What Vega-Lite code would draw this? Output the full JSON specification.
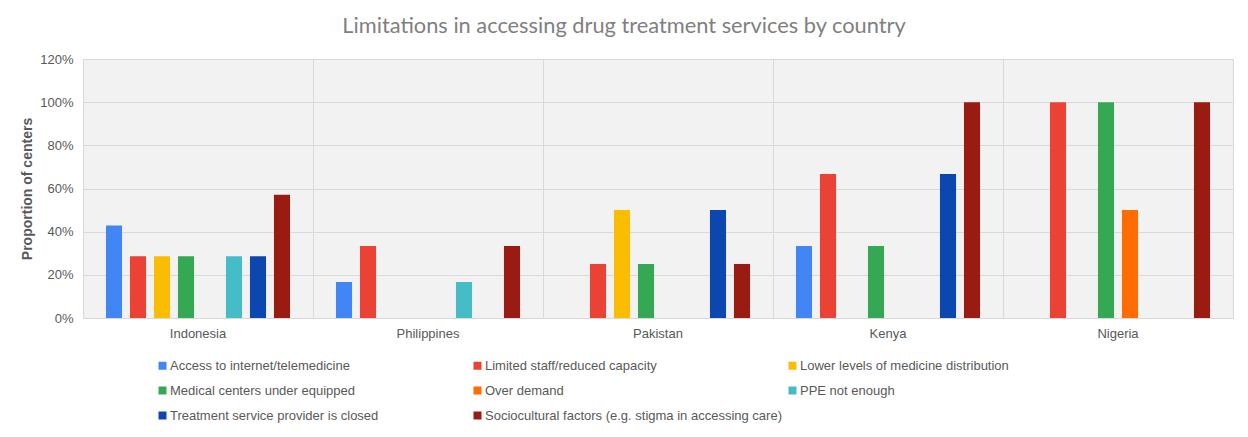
{
  "$schema": "https://vega.github.io/schema/vega-lite/v6.json",
  "width": 1150,
  "height": 259,
  "autosize": {"type": "none"},
  "padding": {"left": 83, "top": 59, "right": 15, "bottom": 119},
  "background": "white",
  "title": {
    "text": "Limitations in accessing drug treatment services by country",
    "font": "Lato",
    "fontSize": 21.8,
    "fontWeight": "normal",
    "color": "#7f7f7f",
    "anchor": "middle",
    "dx": -34,
    "offset": 15
  },
  "config": {
    "view": {"stroke": "#d9d9d9", "fill": "#f2f2f2"},
    "font": "Liberation Sans"
  },
  "data": {
    "values": [
      {"country": "Indonesia", "limitation": "Access to internet/telemedicine", "value": 0.4286},
      {"country": "Indonesia", "limitation": "Limited staff/reduced capacity", "value": 0.2857},
      {"country": "Indonesia", "limitation": "Lower levels of medicine distribution", "value": 0.2857},
      {"country": "Indonesia", "limitation": "Medical centers under equipped", "value": 0.2857},
      {"country": "Indonesia", "limitation": "Over demand", "value": 0},
      {"country": "Indonesia", "limitation": "PPE not enough", "value": 0.2857},
      {"country": "Indonesia", "limitation": "Treatment service provider is closed", "value": 0.2857},
      {"country": "Indonesia", "limitation": "Sociocultural factors (e.g. stigma in accessing care)", "value": 0.5714},
      {"country": "Philippines", "limitation": "Access to internet/telemedicine", "value": 0.1667},
      {"country": "Philippines", "limitation": "Limited staff/reduced capacity", "value": 0.3333},
      {"country": "Philippines", "limitation": "Lower levels of medicine distribution", "value": 0},
      {"country": "Philippines", "limitation": "Medical centers under equipped", "value": 0},
      {"country": "Philippines", "limitation": "Over demand", "value": 0},
      {"country": "Philippines", "limitation": "PPE not enough", "value": 0.1667},
      {"country": "Philippines", "limitation": "Treatment service provider is closed", "value": 0},
      {"country": "Philippines", "limitation": "Sociocultural factors (e.g. stigma in accessing care)", "value": 0.3333},
      {"country": "Pakistan", "limitation": "Access to internet/telemedicine", "value": 0},
      {"country": "Pakistan", "limitation": "Limited staff/reduced capacity", "value": 0.25},
      {"country": "Pakistan", "limitation": "Lower levels of medicine distribution", "value": 0.5},
      {"country": "Pakistan", "limitation": "Medical centers under equipped", "value": 0.25},
      {"country": "Pakistan", "limitation": "Over demand", "value": 0},
      {"country": "Pakistan", "limitation": "PPE not enough", "value": 0},
      {"country": "Pakistan", "limitation": "Treatment service provider is closed", "value": 0.5},
      {"country": "Pakistan", "limitation": "Sociocultural factors (e.g. stigma in accessing care)", "value": 0.25},
      {"country": "Kenya", "limitation": "Access to internet/telemedicine", "value": 0.3333},
      {"country": "Kenya", "limitation": "Limited staff/reduced capacity", "value": 0.6667},
      {"country": "Kenya", "limitation": "Lower levels of medicine distribution", "value": 0},
      {"country": "Kenya", "limitation": "Medical centers under equipped", "value": 0.3333},
      {"country": "Kenya", "limitation": "Over demand", "value": 0},
      {"country": "Kenya", "limitation": "PPE not enough", "value": 0},
      {"country": "Kenya", "limitation": "Treatment service provider is closed", "value": 0.6667},
      {"country": "Kenya", "limitation": "Sociocultural factors (e.g. stigma in accessing care)", "value": 1.0},
      {"country": "Nigeria", "limitation": "Access to internet/telemedicine", "value": 0},
      {"country": "Nigeria", "limitation": "Limited staff/reduced capacity", "value": 1.0},
      {"country": "Nigeria", "limitation": "Lower levels of medicine distribution", "value": 0},
      {"country": "Nigeria", "limitation": "Medical centers under equipped", "value": 1.0},
      {"country": "Nigeria", "limitation": "Over demand", "value": 0.5},
      {"country": "Nigeria", "limitation": "PPE not enough", "value": 0},
      {"country": "Nigeria", "limitation": "Treatment service provider is closed", "value": 0},
      {"country": "Nigeria", "limitation": "Sociocultural factors (e.g. stigma in accessing care)", "value": 1.0}
    ]
  },
  "layer": [
    {
      "mark": {"type": "rule", "color": "#d9d9d9", "strokeWidth": 1, "xOffset": 0.5},
      "encoding": {
        "x": {
          "field": "country",
          "type": "nominal",
          "bandPosition": 0,
          "sort": ["Indonesia", "Philippines", "Pakistan", "Kenya", "Nigeria"],
          "scale": {"paddingInner": 0, "paddingOuter": 0},
          "axis": {"title": null, "labelAngle": 0, "labelPadding": 9, "ticks": false, "domain": false, "grid": false, "labelFont": "Liberation Sans", "labelFontSize": 13, "labelColor": "#595959"}
        }
      }
    },
    {
      "mark": {"type": "bar"},
      "encoding": {
        "x": {
          "field": "country",
          "type": "nominal",
          "sort": ["Indonesia", "Philippines", "Pakistan", "Kenya", "Nigeria"],
          "scale": {"paddingInner": 0, "paddingOuter": 0},
          "axis": {"title": null, "labelAngle": 0, "labelPadding": 9, "ticks": false, "domain": false, "grid": false, "labelFont": "Liberation Sans", "labelFontSize": 13, "labelColor": "#595959"}
        },
        "xOffset": {
          "field": "limitation",
          "type": "nominal",
          "sort": ["Access to internet/telemedicine", "Limited staff/reduced capacity", "Lower levels of medicine distribution", "Medical centers under equipped", "Over demand", "PPE not enough", "Treatment service provider is closed", "Sociocultural factors (e.g. stigma in accessing care)"],
          "scale": {"paddingInner": 0.33, "paddingOuter": 0.957}
        },
        "y": {
          "field": "value",
          "type": "quantitative",
          "scale": {"domain": [0, 1.2], "nice": false},
          "axis": {
            "values": [0, 0.2, 0.4, 0.6, 0.8, 1.0, 1.2],
            "format": ".0%",
            "title": "Proportion of centers",
            "titleFont": "Liberation Sans",
            "titleFontSize": 14,
            "titleFontWeight": "bold",
            "titleColor": "#595959",
            "titlePadding": 5,
            "labelFont": "Liberation Sans",
            "labelFontSize": 13,
            "labelColor": "#595959",
            "labelPadding": 10,
            "ticks": false,
            "domain": false,
            "gridColor": "#d9d9d9"
          }
        },
        "color": {
          "field": "limitation",
          "type": "nominal",
          "scale": {
            "domain": ["Access to internet/telemedicine", "Limited staff/reduced capacity", "Lower levels of medicine distribution", "Medical centers under equipped", "Over demand", "PPE not enough", "Treatment service provider is closed", "Sociocultural factors (e.g. stigma in accessing care)"],
            "range": ["#4285F4", "#EA4335", "#FBBC04", "#34A853", "#FF6D01", "#46BDC6", "#0B47AE", "#9A1B11"]
          },
          "legend": {
            "title": null,
            "orient": "none",
            "direction": "horizontal",
            "legendX": 73,
            "legendY": 300,
            "columns": 3,
            "gridAlign": "all",
            "columnPadding": 4,
            "rowPadding": 11,
            "symbolType": "square",
            "symbolSize": 64,
            "symbolStrokeWidth": 0,
            "labelOffset": 1,
            "labelLimit": 400,
            "labelFont": "Liberation Sans",
            "labelFontSize": 13,
            "labelColor": "#595959",
            "padding": 0
          }
        }
      }
    }
  ]
}
